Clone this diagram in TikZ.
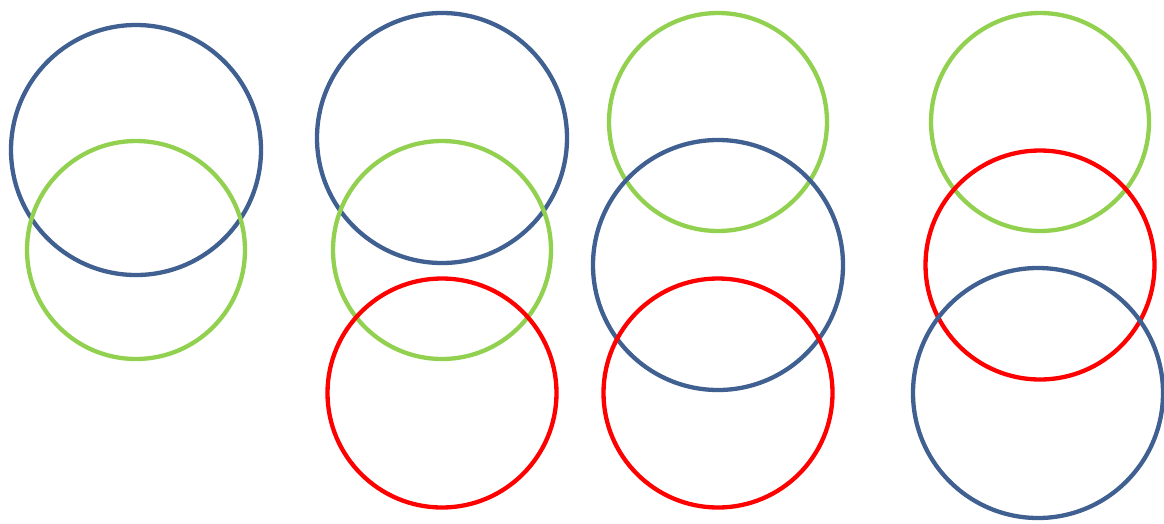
\documentclass[tikz,border=0pt]{standalone}
\definecolor{ringblue}{HTML}{3F6090}
\definecolor{ringgreen}{HTML}{92D050}
\definecolor{ringred}{HTML}{FF0000}
\begin{document}
\begin{tikzpicture}[x=1pt,y=-1pt,
  ring/.style={circle,draw,line width=4.3pt,inner sep=0pt,outer sep=0pt},
  bluering/.style={ring,draw=ringblue,minimum size=250pt},
  greenring/.style={ring,draw=ringgreen,minimum size=218pt},
  redring/.style={ring,draw=ringred,minimum size=229pt}]
\useasboundingbox (0,0) rectangle (1164,523);
% group 1
\node[bluering]  (b1) at (136,150) {};
\node[greenring] (g1) at (136,250) {};
% group 2
\node[bluering]  (b2) at (442,138) {};
\node[greenring] (g2) at (442,250) {};
\node[redring]   (r2) at (442,393) {};
% group 3
\node[greenring] (g3) at (718,122) {};
\node[bluering]  (b3) at (718,265) {};
\node[redring]   (r3) at (718,393) {};
% group 4
\node[greenring] (g4) at (1040,122) {};
\node[redring]   (r4) at (1040,265) {};
\node[bluering]  (b4) at (1038,393) {};
\end{tikzpicture}
\end{document}
